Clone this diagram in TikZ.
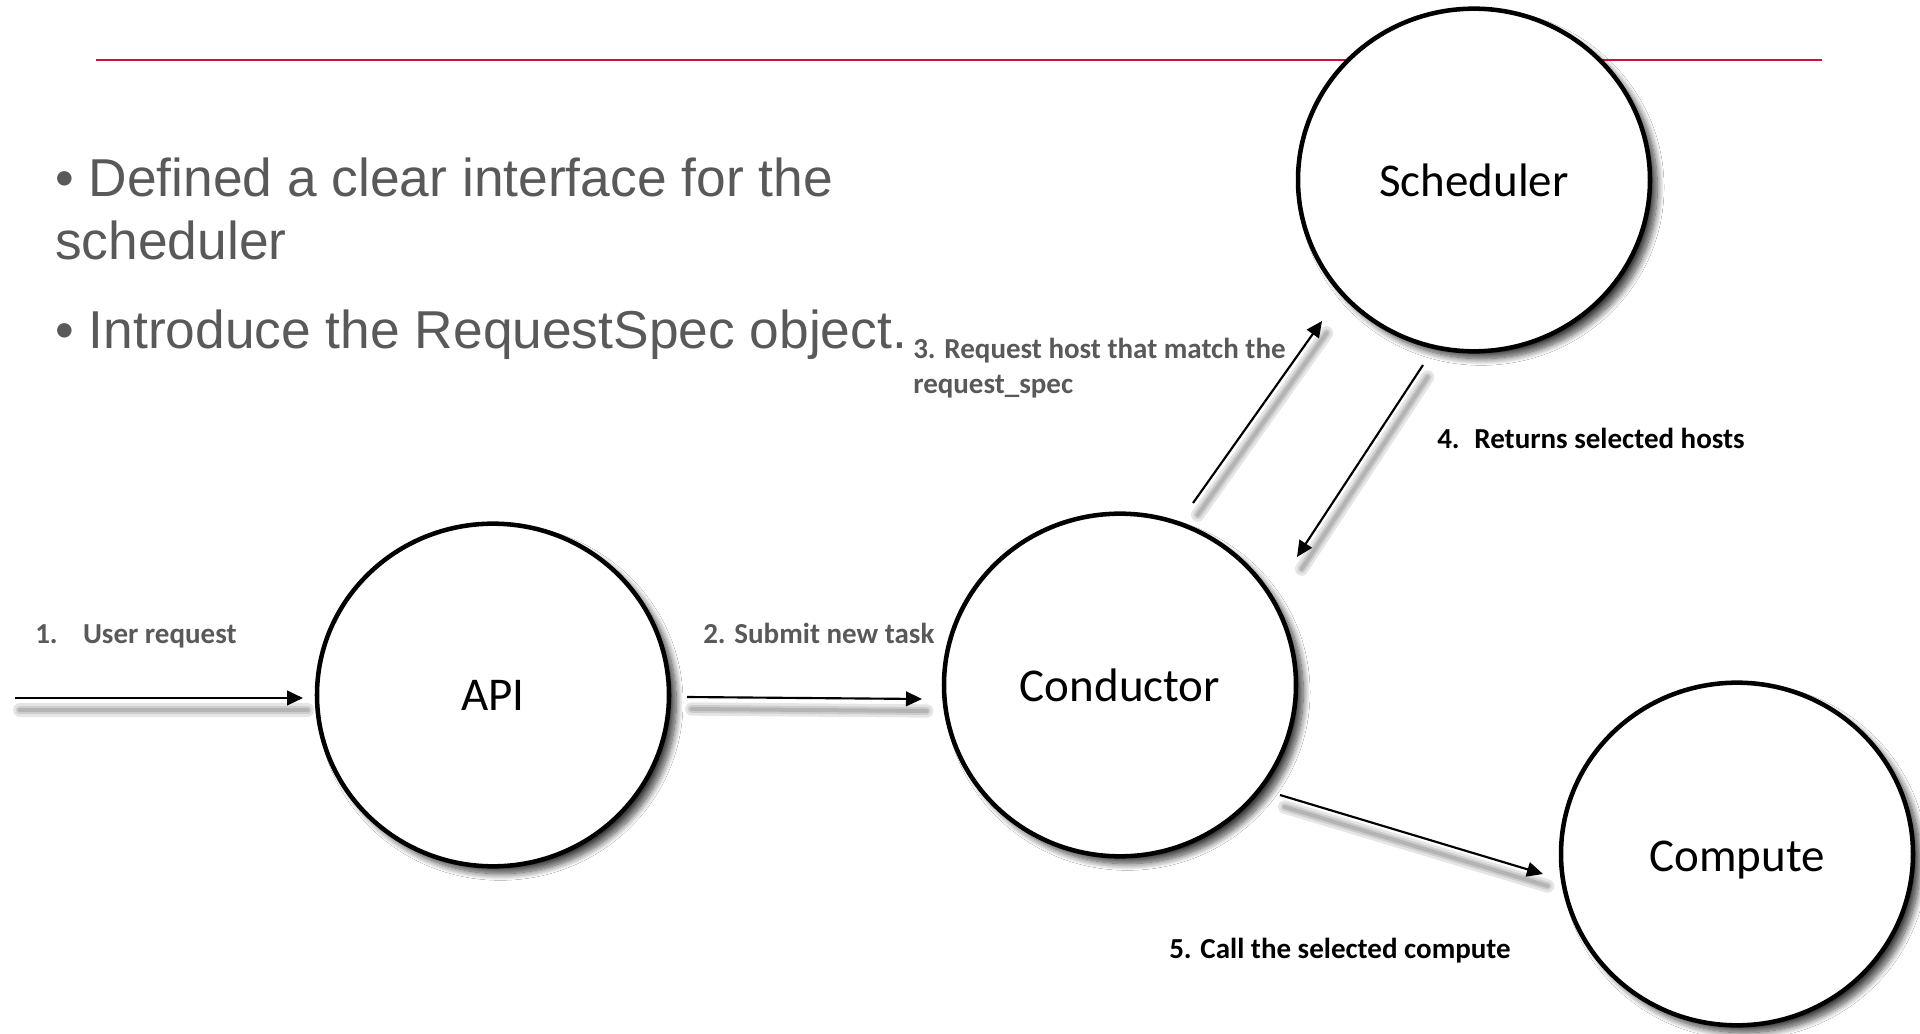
\documentclass[tikz,border=0pt]{standalone}
\usepackage{fontspec}
\setmainfont{Carlito}
\newfontfamily\arialfont{Liberation Sans}
\usetikzlibrary{shapes.geometric, shadows.blur, arrows.meta}

\definecolor{slidered}{RGB}{208,18,58}
\definecolor{slidegray}{RGB}{89,89,89}

\tikzset{
  % process bubbles
  proc/.style={ellipse, draw=black, line width=3.4pt, fill=white,
    minimum width=264pt, minimum height=257pt, inner sep=0pt,
    font=\fontsize{35.25pt}{42pt}\selectfont,
    blur shadow={shadow xshift=5.5pt, shadow yshift=-5.5pt,
      shadow blur radius=5pt, shadow blur steps=12, shadow opacity=75}},
  % soft shadow under a connector
  lshadow/.style={
    preaction={draw=black, arrows=-, line cap=round, opacity=0.10, line width=10pt,
      transform canvas={xshift=3.5pt, yshift=-9pt}},
    preaction={draw=black, arrows=-, line cap=round, opacity=0.10, line width=6pt,
      transform canvas={xshift=3.5pt, yshift=-9pt}},
    preaction={draw=black, arrows=-, line cap=round, opacity=0.12, line width=3pt,
      transform canvas={xshift=3.5pt, yshift=-9pt}}},
  flow/.style={lshadow, draw=black, line width=1.6pt,
    -{Triangle[length=12pt, width=11pt]}},
  bullet/.style={anchor=base west, inner sep=0pt, text=slidegray,
    font=\arialfont\fontsize{40pt}{47pt}\selectfont},
  lbl/.style={anchor=base west, inner sep=0pt,
    font=\bfseries\fontsize{21.75pt}{26pt}\selectfont},
}

\begin{document}
\begin{tikzpicture}[x=0.75pt, y=-0.75pt]
  % page
  \fill[white] (0,0) rectangle (1920,1034);
  \useasboundingbox (0,0) rectangle (1920,1034);

  % title rule
  \coordinate (rule0) at (96,60);
  \coordinate (rule1) at (1822,60);
  \draw[slidered, line width=1.5pt] (rule0) -- (rule1);

  % bullet points
  \node[bullet] (b1a) at (55,197) {• Defined a clear interface for the};
  \node[bullet] (b1b) at (55,260) {scheduler};
  \node[bullet] (b2)  at (55,348) {• Introduce the RequestSpec object.};

  % components
  \node[proc] (sched) at (1474,180) {Scheduler};
  \node[proc] (api)   at (493,695)  {API};
  \node[proc] (cond)  at (1120,685) {Conductor};
  \node[proc, text height=32pt] (comp) at (1737,854) {Compute};

  % connector end points
  \coordinate (user)  at (15,698);
  \coordinate (apiIn) at (303,698);
  \coordinate (apiOut) at (687,697);
  \coordinate (condIn) at (922,699);
  \coordinate (condUp) at (1193,503);
  \coordinate (schedIn) at (1322,321);
  \coordinate (schedOut) at (1423,365);
  \coordinate (condBack) at (1297,557);
  \coordinate (condOut) at (1280,795);
  \coordinate (compIn) at (1543,874);

  % connectors
  \draw[flow] (user) -- (apiIn);
  \draw[flow] (apiOut) -- (condIn);
  \draw[flow] (condUp) -- (schedIn);
  \draw[flow] (schedOut) -- (condBack);
  \draw[flow] (condOut) -- (compIn);

  % step labels
  \node[lbl, text=slidegray] (l1) at (35,643) {1.\hspace{19pt}User request};
  \node[lbl, text=slidegray] (l2) at (703,643) {2. Submit new task};
  \node[lbl, text=slidegray] (l3a) at (913,358) {3. Request host that match the};
  \node[lbl, text=slidegray] (l3b) at (913,393) {request\_spec};
  \node[lbl, text=black] (l4) at (1437,448) {4.\hspace{11pt}Returns selected hosts};
  \node[lbl, text=black] (l5) at (1169,958) {5. Call the selected compute};
\end{tikzpicture}
\end{document}
